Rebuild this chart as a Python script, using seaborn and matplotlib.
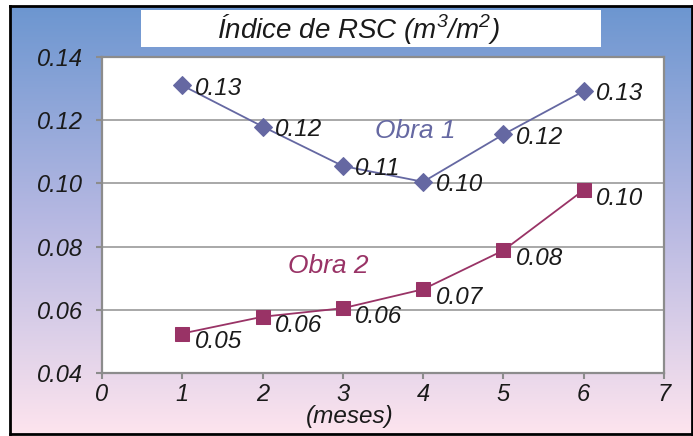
import numpy as np
import pandas as pd
import matplotlib
matplotlib.use("Agg")
import matplotlib.pyplot as plt
from matplotlib.colors import LinearSegmentedColormap
from matplotlib.patches import Rectangle
import seaborn as sns

# datos
meses = [1, 2, 3, 4, 5, 6]
obra1 = [0.131, 0.118, 0.1055, 0.1005, 0.1155, 0.1292]
obra2 = [0.0525, 0.0578, 0.0605, 0.0665, 0.0788, 0.0979]
yticks = [0.04, 0.06, 0.08, 0.10, 0.12, 0.14]
xticks = [0, 1, 2, 3, 4, 5, 6, 7]

sns.set_style("white")
plt.rcParams['font.family'] = ['Liberation Sans', 'DejaVu Sans']
plt.rcParams['font.style'] = 'italic'
plt.rcParams['mathtext.fontset'] = 'custom'
plt.rcParams['mathtext.rm'] = 'Liberation Sans:italic'
plt.rcParams['mathtext.it'] = 'Liberation Sans:italic'

W, H = 693, 436
fig = plt.figure(figsize=(W / 100, H / 100), dpi=100)
fig.patch.set_facecolor('white')

# fondo degradado con marco negro
bg = fig.add_axes([10 / W, 2 / H, 682 / W, 428 / H], zorder=-10)
cmap = LinearSegmentedColormap.from_list('fondo', ['#6c96d0', '#b6b8e2', '#fde4ee'])
grad = np.linspace(0, 1, 256).reshape(-1, 1)
bg.imshow(grad, cmap=cmap, aspect='auto', extent=[0, 1, 0, 1], origin='upper')
bg.set_xticks([])
bg.set_yticks([])
for s in bg.spines.values():
    s.set_color('black')
    s.set_linewidth(2)

# caja del título
fig.patches.append(Rectangle((141 / W, 1 - 47 / H), 460 / W, 37 / H,
                             transform=fig.transFigure, facecolor='white',
                             edgecolor='none', zorder=0))
fig.text(359 / W, 1 - 29 / H, 'Índice de RSC (m$^3$/m$^2$)', ha='center', va='center',
         fontsize=20, style='italic', color='#1a1a1a')

ax = fig.add_axes([102 / W, 1 - 373 / H, 562 / W, 316 / H])
ax.set_facecolor('white')

df = pd.DataFrame({'mes': meses, 'Obra 1': obra1, 'Obra 2': obra2})
c1, c2 = '#6568a2', '#993366'
sns.lineplot(data=df, x='mes', y='Obra 1', ax=ax, color=c1, lw=1.3,
             marker='D', markersize=9, markeredgecolor=c1, zorder=3)
sns.lineplot(data=df, x='mes', y='Obra 2', ax=ax, color=c2, lw=1.3,
             marker='s', markersize=10, markeredgecolor=c2, zorder=3)

for x, v in zip(meses, obra1):
    ax.annotate(f'{v:.2f}', (x, v), xytext=(9, -2), textcoords='offset points',
                ha='left', va='center', fontsize=17.5, color='#1a1a1a')
for x, v in zip(meses, obra2):
    ax.annotate(f'{v:.2f}', (x, v), xytext=(9, -6), textcoords='offset points',
                ha='left', va='center', fontsize=17.5, color='#1a1a1a')

ax.text(3.4, 0.1165, 'Obra 1', fontsize=19, color=c1, ha='left', va='center')
ax.text(2.32, 0.074, 'Obra 2', fontsize=19, color=c2, ha='left', va='center')

ax.set_xlim(0, 7)
ax.set_ylim(0.04, 0.14)
ax.set_xticks(xticks)
ax.set_yticks(yticks)
ax.set_yticklabels([f'{t:.2f}' for t in yticks])
ax.grid(axis='y', color='#9a9a9a', lw=1.2)
ax.grid(axis='x', visible=False)
ax.tick_params(axis='both', direction='out', length=4, width=1.5, color='#8c8c8c',
               labelsize=17, labelcolor='#1a1a1a')
ax.tick_params(axis='y', pad=10)
ax.tick_params(axis='x', pad=3, bottom=True)
ax.tick_params(axis='y', left=True)
for s in ax.spines.values():
    s.set_color('#8c8c8c')
    s.set_linewidth(1.6)

ax.set_ylabel('')
ax.set_xlabel('(meses)', fontsize=17.5, color='#1a1a1a')
ax.xaxis.set_label_coords(248 / 562, -43 / 316)
ax.xaxis.label.set_va('center')

fig.savefig('out.png', dpi=100)
